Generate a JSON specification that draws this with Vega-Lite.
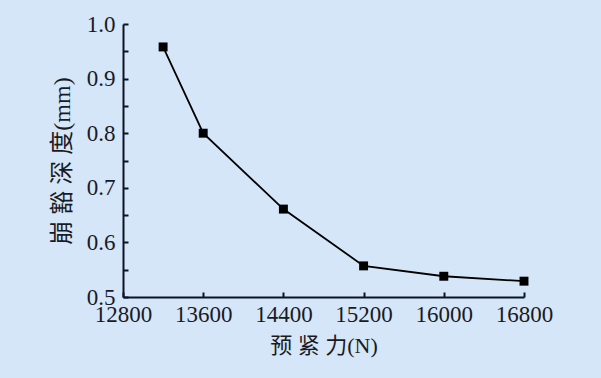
{
  "$schema": "https://vega.github.io/schema/vega-lite/v6.json",
  "width": 401,
  "height": 273,
  "autosize": {"type": "none"},
  "padding": {"left": 123, "top": 24, "right": 77, "bottom": 81},
  "background": "#d5e6f8",
  "config": {
    "view": {"stroke": null},
    "axis": {
      "domainColor": "#0b1426",
      "domainWidth": 2,
      "tickColor": "#0b1426",
      "tickWidth": 2,
      "tickSize": -5,
      "grid": false,
      "labelFont": "Liberation Serif",
      "labelFontSize": 23,
      "labelColor": "#1a1a24",
      "titleFont": "Liberation Serif, Noto Sans CJK SC",
      "titleFontWeight": "normal",
      "titleColor": "#1a1a24"
    }
  },
  "data": {
    "values": [
      {"force": 13200, "depth": 0.958},
      {"force": 13600, "depth": 0.800},
      {"force": 14400, "depth": 0.661},
      {"force": 15200, "depth": 0.557},
      {"force": 16000, "depth": 0.538},
      {"force": 16800, "depth": 0.529}
    ]
  },
  "encoding": {
    "x": {
      "field": "force",
      "type": "quantitative",
      "scale": {"domain": [12800, 16800], "nice": false, "zero": false},
      "axis": {
        "values": [12800, 13600, 14400, 15200, 16000, 16800],
        "format": "d",
        "labelPadding": 11,
        "labelFlush": false,
        "labelOverlap": false,
        "title": "预 紧 力(N)",
        "titleFontSize": 22,
        "titlePadding": 9
      }
    },
    "y": {
      "field": "depth",
      "type": "quantitative",
      "scale": {"domain": [0.5, 1.0], "nice": false, "zero": false},
      "axis": {
        "values": [0.5, 0.55, 0.6, 0.65, 0.7, 0.75, 0.8, 0.85, 0.9, 0.95, 1.0],
        "labelExpr": "abs(datum.value*10 - round(datum.value*10)) < 0.01 ? format(datum.value, '.1f') : ''",
        "labelPadding": 13,
        "labelFlush": false,
        "labelOverlap": false,
        "title": "崩 豁 深 度(mm)",
        "titleFontSize": 24,
        "titlePadding": 12
      }
    }
  },
  "layer": [
    {"mark": {"type": "line", "color": "#000000", "strokeWidth": 1.8}},
    {"mark": {"type": "square", "color": "#000000", "filled": true, "opacity": 1, "size": 80}}
  ]
}
